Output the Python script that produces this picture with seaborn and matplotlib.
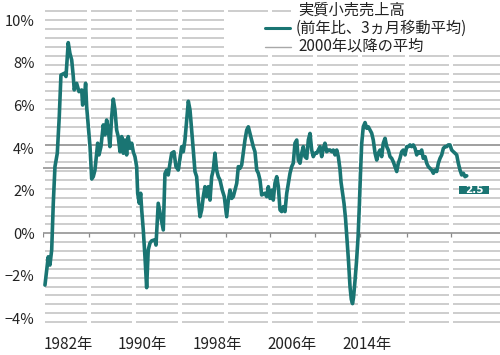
import numpy as np
import pandas as pd
import matplotlib
matplotlib.use("Agg")
import matplotlib.pyplot as plt
import seaborn as sns
from matplotlib.lines import Line2D
from matplotlib.patches import Rectangle

# ---------------- data ----------------
years = [
    1979.54, 1979.89, 1980.07, 1980.26, 1980.43, 1980.61, 1980.86, 1981.07, 1981.25, 1981.60,
    1981.79, 1982.03, 1982.21, 1982.40, 1982.57, 1982.67, 1982.93, 1983.18, 1983.47, 1983.57,
    1983.75, 1983.89, 1984.00, 1984.36, 1984.54, 1984.71, 1984.89, 1985.18, 1985.32, 1985.53,
    1985.78, 1985.96, 1986.14, 1986.31, 1986.49, 1986.68, 1986.85, 1987.03, 1987.21, 1987.38,
    1987.57, 1987.75, 1987.92, 1988.10, 1988.28, 1988.45, 1988.64, 1988.82, 1988.99, 1989.17,
    1989.35, 1989.46, 1989.63, 1989.78, 1989.89, 1990.06, 1990.24, 1990.42, 1990.59, 1990.78,
    1990.96, 1991.31, 1991.42, 1991.66, 1992.03, 1992.20, 1992.38, 1992.56, 1992.73, 1992.92,
    1993.10, 1993.34, 1993.56, 1993.81, 1993.99, 1994.17, 1994.34, 1994.52, 1994.70, 1994.88,
    1995.06, 1995.24, 1995.41, 1995.59, 1995.77, 1995.95, 1996.13, 1996.31, 1996.48, 1996.66,
    1996.84, 1997.02, 1997.20, 1997.38, 1997.55, 1997.73, 1997.91, 1998.09, 1998.27, 1998.51,
    1998.73, 1998.98, 1999.16, 1999.34, 1999.52, 1999.69, 1999.87, 2000.06, 2000.23, 2000.41,
    2000.59, 2000.76, 2000.94, 2001.13, 2001.30, 2001.48, 2001.66, 2001.83, 2002.01, 2002.20,
    2002.37, 2002.55, 2002.73, 2003.08, 2003.27, 2003.44, 2003.62, 2003.80, 2003.97, 2004.15,
    2004.34, 2004.51, 2004.69, 2004.87, 2005.04, 2005.22, 2005.41, 2005.58, 2005.76, 2005.94,
    2006.11, 2006.29, 2006.48, 2006.65, 2006.83, 2007.01, 2007.18, 2007.36, 2007.55, 2007.72,
    2007.90, 2008.08, 2008.25, 2008.43, 2008.62, 2008.79, 2008.97, 2009.15, 2009.32, 2009.50,
    2009.69, 2009.86, 2010.04, 2010.22, 2010.39, 2010.58, 2010.76, 2010.93, 2011.11, 2011.22,
    2011.38, 2011.54, 2011.70, 2011.86, 2012.02, 2012.18, 2012.32, 2012.45, 2012.56, 2012.72,
    2012.88, 2013.04, 2013.18, 2013.30, 2013.43, 2013.60, 2013.79, 2013.97, 2014.14, 2014.32,
    2014.50, 2014.67, 2014.86, 2015.04, 2015.21, 2015.39, 2015.57, 2015.74, 2015.93, 2016.11,
    2016.28, 2016.46, 2016.64, 2016.81, 2017.00, 2017.18, 2017.35, 2017.53, 2017.71, 2017.88,
    2018.07, 2018.25, 2018.42, 2018.60, 2018.78, 2018.95, 2019.14, 2019.32, 2019.49, 2019.67,
    2019.85, 2020.02, 2020.21, 2020.39, 2020.56, 2020.74, 2020.92, 2021.10, 2021.28, 2021.46,
    2021.63, 2021.81, 2021.99, 2022.17, 2022.35, 2022.53, 2022.70, 2022.88, 2023.06, 2023.24,
    2023.42, 2023.60, 2023.77, 2023.95, 2024.13, 2024.31, 2024.49, 2024.67,
]
sales_yoy = [
    -2.43, -1.10, -1.49, -0.78, 1.41, 3.13, 3.76, 5.48, 7.43, 7.51,
    7.36, 8.95, 8.45, 8.14, 7.36, 6.73, 7.04, 6.65, 6.73, 6.02,
    6.34, 7.04, 5.95, 4.07, 2.55, 2.66, 2.97, 4.23, 3.68, 4.07,
    5.09, 4.62, 5.32, 4.93, 4.07, 5.48, 6.30, 5.79, 4.85, 4.54,
    3.83, 4.54, 3.76, 4.38, 3.68, 4.54, 3.99, 4.23, 3.83, 3.60,
    3.13, 1.88, 1.41, 1.88, 1.10, 0.16, -1.10, -2.55, -0.78, -0.45,
    -0.35, -0.30, -0.55, 1.41, 0.55, 0.16, 2.80, 2.97, 2.74, 3.29,
    3.76, 3.83, 3.13, 2.97, 3.52, 4.07, 3.83, 4.38, 5.32, 6.20,
    5.79, 4.85, 3.91, 2.90, 2.66, 1.56, 0.78, 1.10, 1.72, 2.19,
    1.72, 2.19, 1.56, 2.66, 2.97, 3.76, 2.97, 2.66, 2.50, 2.03,
    1.72, 0.78, 1.56, 2.03, 1.64, 1.72, 2.03, 2.35, 3.13, 3.05,
    3.21, 3.76, 4.38, 4.85, 5.00, 4.69, 4.38, 4.07, 3.83, 2.97,
    2.82, 2.50, 1.80, 1.88, 1.72, 2.19, 1.64, 2.03, 1.56, 2.35,
    2.66, 2.19, 1.10, 1.02, 1.25, 1.02, 1.88, 2.35, 2.82, 3.13,
    3.29, 4.23, 4.38, 3.44, 3.29, 3.76, 4.07, 3.60, 3.52, 4.38,
    4.69, 3.91, 3.60, 3.76, 3.76, 3.91, 4.07, 3.60, 3.99, 4.23,
    3.83, 3.91, 3.91, 3.83, 3.91, 3.68, 3.91, 3.60, 3.00, 2.40,
    1.90, 1.40, 0.70, -0.30, -1.30, -2.50, -3.10, -3.30, -3.00, -2.20,
    -1.30, -0.20, 1.30, 2.80, 4.20, 5.00, 5.20, 4.93, 5.00, 4.85,
    4.70, 4.38, 3.76, 3.44, 3.76, 3.91, 3.60, 4.23, 4.46, 4.07,
    3.91, 3.60, 3.52, 3.36, 3.13, 2.90, 3.29, 3.52, 3.83, 3.91,
    3.68, 4.07, 4.07, 4.15, 4.07, 4.15, 3.99, 3.68, 3.83, 3.76,
    3.91, 3.52, 3.60, 3.29, 3.13, 3.05, 2.97, 2.82, 2.97, 2.90,
    3.29, 3.52, 3.68, 3.99, 4.07, 4.07, 4.15, 4.15, 3.91, 3.83,
    3.76, 3.68, 3.29, 2.97, 2.74, 2.82, 2.66, 2.70,
]
avg_since_2000 = 3.08
latest_label = "2.5"

year_ticks = [1982, 1990, 1998, 2006, 2014]
year_tick_labels = ["1982年", "1990年", "1998年", "2006年", "2014年"]
y_ticks = [-4, -2, 0, 2, 4, 6, 8, 10]
y_tick_labels = ["−4%", "−2%", "0%", "2%", "4%", "6%", "8%", "10%"]

legend_lines = ["実質小売売上高", "(前年比、3ヵ月移動平均)", "2000年以降の平均"]

# ---------------- style ----------------
TEAL = "#1a7573"
GRID = "#c2c2c2"
DARK = "#8a8a8a"
grid_levels = [k * 10 / 24 for k in range(-10, 26)]
separators = [1979.36, 1984.28, 1989.09, 1994.02, 1998.86, 2003.65,
              2008.41, 2013.28, 2018.23, 2023.01]

sns.set_theme(style="white")
plt.rcParams['font.family'] = ['Noto Sans CJK JP', 'DejaVu Sans']

W, H = 500, 355
fig = plt.figure(figsize=(W / 100, H / 100), dpi=100)
ax = fig.add_axes([43 / W, 1 - 329.2 / H, 457 / W, 324.9 / H])
ax.set_xlim(1979.33, 2028.23)
ax.set_ylim(-4.5, 10.75)

df = pd.DataFrame({"year": years, "value": sales_yoy})
sns.lineplot(data=df, x="year", y="value", ax=ax, color=TEAL, linewidth=2.6,
             sort=False, zorder=6, solid_joinstyle="round", solid_capstyle="round")

for g in grid_levels:
    if abs(g) < 1e-9:
        continue
    col = DARK if abs(g - 10 * 10 / 24) < 1e-9 else GRID
    ax.axhline(g, color=col, lw=1.15, zorder=1)
for s in separators:
    ax.axvline(s, color="white", lw=2.9, zorder=2)
ax.axhline(0, color=DARK, lw=1.1, zorder=3)
ax.axhline(avg_since_2000, color=DARK, lw=1.1, zorder=3)
ax.vlines(separators, -0.16, 0, color=DARK, lw=0.9, zorder=3)

# legend area background
ax.add_patch(Rectangle((1999.0, 8.57), 2028.23 - 1999.0, 10.26 - 8.57,
                       facecolor="white", edgecolor="none", zorder=2.5))
ax.add_patch(Rectangle((2005.9, 10.26), 2028.23 - 2005.9, 0.6,
                       facecolor="white", edgecolor="none", zorder=2.5))

# latest value label
ax.add_patch(Rectangle((2023.85, 1.83), 3.21, 0.41, facecolor=TEAL,
                       edgecolor="none", zorder=7))
ax.text(2025.45, 2.03, latest_label, color="white", fontsize=7.5,
        fontweight="bold", family="DejaVu Sans", ha="center", va="center", zorder=8)

for sp in ax.spines.values():
    sp.set_visible(False)
ax.set_xticks(year_ticks, year_tick_labels)
ax.set_yticks(y_ticks, y_tick_labels)
ax.tick_params(axis="x", length=0, pad=5, labelsize=11, labelcolor="#222222")
ax.tick_params(axis="y", length=0, pad=6, labelsize=10.5, labelcolor="#222222")
ax.set_xlabel("")
ax.set_ylabel("")
ax.grid(False)

# legend texts
fs = 11
fig.text(298 / W, 1 - 10 / H, legend_lines[0], fontsize=fs, va="center", ha="left", color="#222222")
fig.text(296 / W, 1 - 28.3 / H, legend_lines[1], fontsize=fs, va="center", ha="left", color="#222222")
fig.text(298 / W, 1 - 46.7 / H, legend_lines[2], fontsize=fs, va="center", ha="left", color="#222222")
fig.add_artist(Line2D([265 / W, 290 / W], [1 - 28.3 / H] * 2, color=TEAL, lw=2.2))
fig.add_artist(Line2D([265 / W, 291 / W], [1 - 46.7 / H] * 2, color="#a8a8a8", lw=1.0))

fig.savefig("out.png", dpi=100)
